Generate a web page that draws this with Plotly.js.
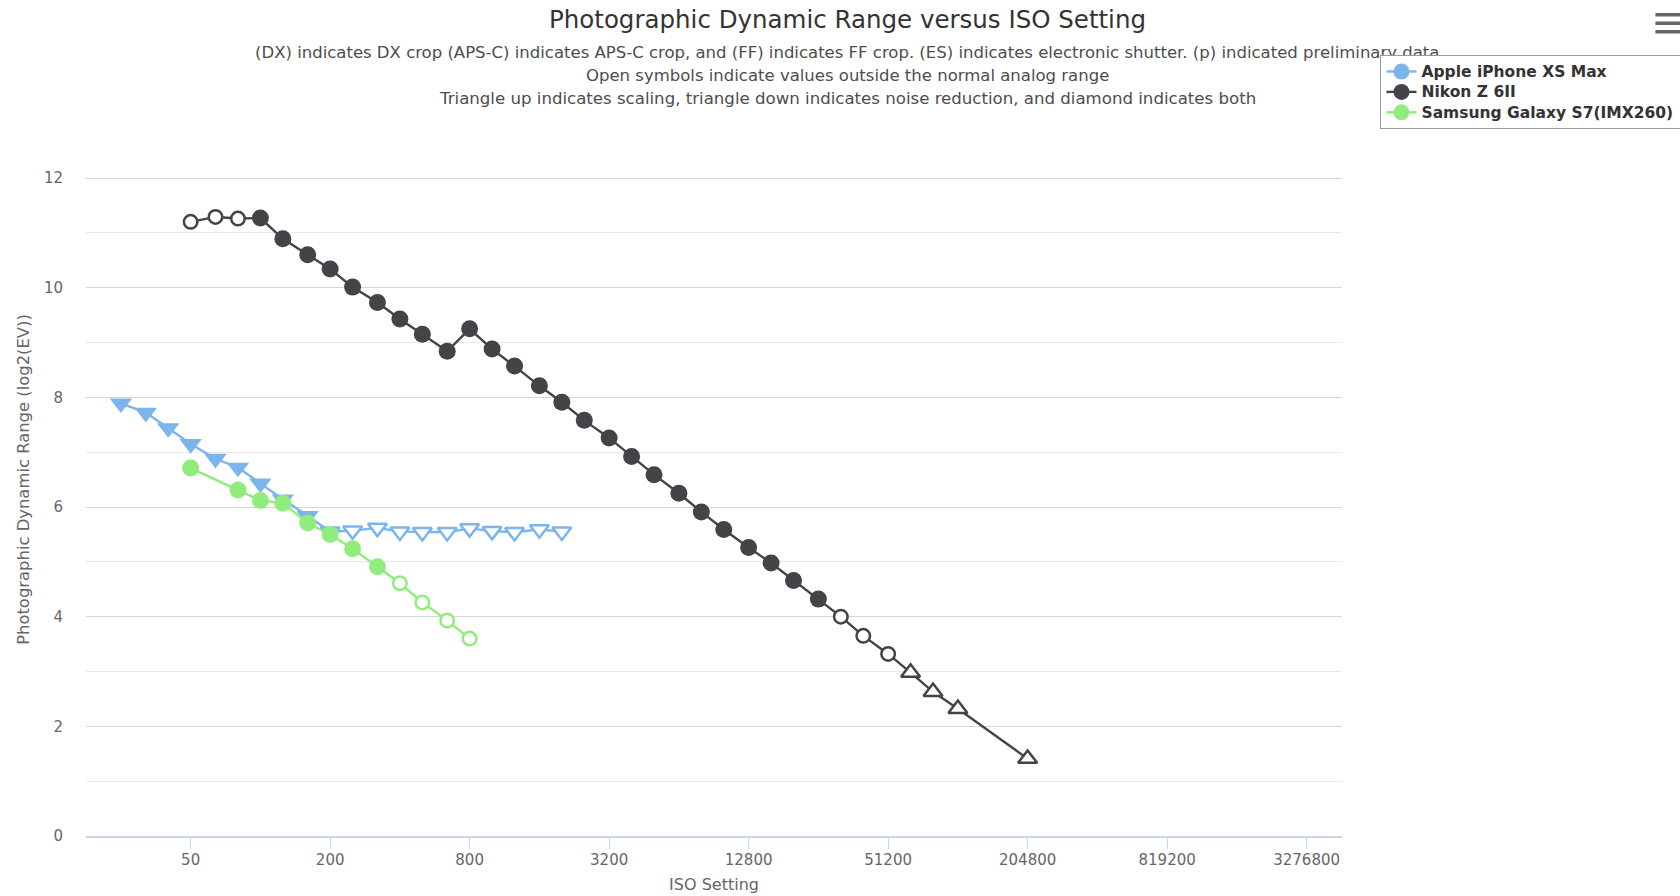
<!DOCTYPE html>
<html>
<head>
<meta charset="utf-8">
<script src="https://cdn.plot.ly/plotly-3.0.1.min.js"></script>
<style>
html,body{margin:0;padding:0;background:#fff;}
#chart{width:1680px;height:896px;}
#chart .legend text.legendtext{font-size:15.5px !important;}
</style>
</head>
<body>
<div id="chart"></div>
<script>
// ---- Data ----
const seriesNames = ["Apple iPhone XS Max", "Nikon Z 6II", "Samsung Galaxy S7(IMX260)"];

const appleIso = [25,32,40,50,64,80,100,125,160,200,250,320,400,500,640,800,1000,1250,1600,2000];
const appleDR  = [7.89,7.72,7.44,7.15,6.88,6.72,6.43,6.14,5.84,5.55,5.57,5.62,5.55,5.54,5.54,5.61,5.56,5.54,5.59,5.55];
// processing: "nr" = noise reduction (triangle down), "sc" = scaling (triangle up), "" = none
const appleProc = ["nr","nr","nr","nr","nr","nr","nr","nr","nr","nr","nr","nr","nr","nr","nr","nr","nr","nr","nr","nr"];
const appleOpen = [0,0,0,0,0,0,0,0,0,1,1,1,1,1,1,1,1,1,1,1];

const nikonIso = [50,64,80,100,125,160,200,250,320,400,500,640,800,1000,1250,1600,2000,2500,3200,4000,5000,6400,8000,10000,12800,16000,20000,25600,32000,40000,51200,64000,80000,102400,204800];
const nikonDR  = [11.20,11.29,11.26,11.27,10.89,10.60,10.34,10.01,9.73,9.43,9.15,8.84,9.25,8.88,8.57,8.21,7.91,7.58,7.26,6.92,6.59,6.25,5.91,5.59,5.26,4.98,4.66,4.32,4.00,3.65,3.32,2.98,2.63,2.32,1.41];
const nikonProc = ["","","","","","","","","","","","","","","","","","","","","","","","","","","","","","","","sc","sc","sc","sc"];
const nikonOpen = [1,1,1,0,0,0,0,0,0,0,0,0,0,0,0,0,0,0,0,0,0,0,0,0,0,0,0,0,1,1,1,1,1,1,1];

const samsungIso = [50,80,100,125,160,200,250,320,400,500,640,800];
const samsungDR  = [6.71,6.31,6.12,6.07,5.71,5.50,5.24,4.91,4.61,4.26,3.93,3.60];
const samsungProc = ["","","","","","","","","","","",""];
const samsungOpen = [0,0,0,0,0,0,0,0,1,1,1,1];

const isoTicks = [50,200,800,3200,12800,51200,204800,819200,3276800];
const isoTickText = ["50","200","800","3200","12800","51200","204800","819200","3276800"];

const titleText = "Photographic Dynamic Range versus ISO Setting";
const subtitleLines = [
  "(DX) indicates DX crop (APS-C) indicates APS-C crop, and (FF) indicates FF crop. (ES) indicates electronic shutter. (p) indicated preliminary data",
  "Open symbols indicate values outside the normal analog range",
  "Triangle up indicates scaling, triangle down indicates noise reduction, and diamond indicates both"
];

// ---- Styling ----
const colors = ["#7cb5ec", "#434348", "#90ed7d"];
const FONT = "DejaVu Sans, Verdana, sans-serif";

function symbolFor(p) {
  if (p === "nr") return "triangle-down";
  if (p === "sc") return "triangle-up";
  if (p === "both") return "diamond";
  return "circle";
}

function makeTrace(name, iso, dr, proc, open, color) {
  const symbols = proc.map(symbolFor);
  const sizes = proc.map((p, i) => {
    const tri = p === "nr" || p === "sc";
    if (tri) return open[i] ? 16.5 : 19.5;
    return open[i] ? 13.5 : 17;
  });
  return {
    type: "scatter",
    mode: "lines+markers",
    name: name,
    x: iso,
    y: dr,
    showlegend: false,
    line: {color: color, width: 2.4},
    marker: {
      symbol: symbols,
      size: sizes,
      opacity: 1,
      color: open.map(o => o ? "#ffffff" : color),
      line: {color: color, width: open.map(o => o ? 2.5 : 0)}
    },
    hoverinfo: "x+y+name"
  };
}

function legendTrace(name, color) {
  return {
    type: "scatter",
    mode: "lines+markers",
    name: name,
    x: [null],
    y: [null],
    showlegend: true,
    line: {color: color, width: 2.4},
    marker: {symbol: "circle", size: 16, color: color, opacity: 1}
  };
}

const data = [
  makeTrace(seriesNames[0], appleIso, appleDR, appleProc, appleOpen, colors[0]),
  makeTrace(seriesNames[1], nikonIso, nikonDR, nikonProc, nikonOpen, colors[1]),
  makeTrace(seriesNames[2], samsungIso, samsungDR, samsungProc, samsungOpen, colors[2]),
  legendTrace(seriesNames[0], colors[0]),
  legendTrace(seriesNames[1], colors[1]),
  legendTrace(seriesNames[2], colors[2])
];

// plot area geometry (pixels)
const W = 1680, H = 896;
const L = 86, R = 1342.5, T = 123.2, B = 835.8;
const px2paperX = px => (px - L) / (R - L);
const px2paperY = py => (B - py) / (B - T);

const subY = [52.5, 76, 98.6];
const annotations = subtitleLines.map((t, i) => ({
  text: t,
  xref: "paper", yref: "paper",
  x: px2paperX(847.5), y: px2paperY(subY[i]),
  xanchor: "center", yanchor: "middle",
  showarrow: false,
  font: {family: FONT, size: i === 2 ? 16.6 : 16.5, color: "#4d4d4d"}
}));

// export-menu icon (three bars)
const shapes = [15, 23.5, 32].map(py => ({
  type: "line", xref: "paper", yref: "paper",
  x0: px2paperX(1656), x1: px2paperX(1682),
  y0: px2paperY(py), y1: px2paperY(py),
  line: {color: "#666666", width: 3.5}
}));

const layout = {
  width: W, height: H,
  paper_bgcolor: "#ffffff",
  plot_bgcolor: "#ffffff",
  margin: {l: L, r: W - R, t: T, b: H - B, pad: 0, autoexpand: false},
  font: {family: FONT, color: "#666666"},
  title: {
    text: titleText,
    font: {family: FONT, size: 24.5, color: "#333333"},
    x: 847.5 / W, xref: "container", xanchor: "center",
    y: 1 - 19 / H, yref: "container", yanchor: "middle"
  },
  xaxis: {
    type: "log",
    range: [Math.log10(50) - (190.7 - L) / 231.8, Math.log10(3276800) + (R - 1307.1) / 231.8],
    tickmode: "array",
    tickvals: isoTicks,
    ticktext: isoTickText,
    ticks: "outside",
    ticklen: 11,
    tickwidth: 1,
    tickcolor: "#ccd6eb",
    ticklabelstandoff: -2,
    showline: true,
    linecolor: "#ccd6eb",
    linewidth: 1.5,
    showgrid: false,
    zeroline: false,
    tickfont: {family: FONT, size: 15, color: "#666666"},
    title: {text: "ISO Setting", font: {family: FONT, size: 16, color: "#666666"}, standoff: 11}
  },
  yaxis: {
    range: [0, 13.003],
    tickmode: "linear",
    tick0: 0,
    dtick: 2,
    showgrid: true,
    gridcolor: "#d6d6d6",
    gridwidth: 1,
    zeroline: false,
    showline: false,
    ticks: "",
    ticklabelstandoff: 22,
    tickfont: {family: FONT, size: 15, color: "#666666"},
    minor: {dtick: 1, tick0: 0, showgrid: true, gridcolor: "#e8e8e8", gridwidth: 1, ticks: ""},
    title: {text: "Photographic Dynamic Range (log2(EV))", font: {family: FONT, size: 16.4, color: "#666666"}, standoff: 10}
  },
  legend: {
    x: px2paperX(1381), y: px2paperY(55.5),
    xanchor: "left", yanchor: "top",
    bgcolor: "#ffffff",
    bordercolor: "#999999",
    borderwidth: 1,
    font: {family: FONT, size: 13.4, color: "#333333", weight: "bold"},
    tracegroupgap: 0,
    itemsizing: "trace"
  },
  annotations: annotations,
  shapes: shapes,
  showlegend: true,
  hovermode: "closest"
};

Plotly.newPlot("chart", data, layout, {displayModeBar: false, responsive: false}).then(gd => {
  const leg = gd.querySelector("g.legend");
  if (!leg) return;
  // keep the legend box drawn above the subtitle text, as in the original
  if (leg.parentNode) leg.parentNode.appendChild(leg);
  // the original legend box runs past the right edge of the chart
  const bg = leg.querySelector("rect.bg");
  if (bg) bg.setAttribute("width", 420);
  leg.querySelectorAll("[clip-path]").forEach(el => el.removeAttribute("clip-path"));
});
</script>
</body>
</html>
